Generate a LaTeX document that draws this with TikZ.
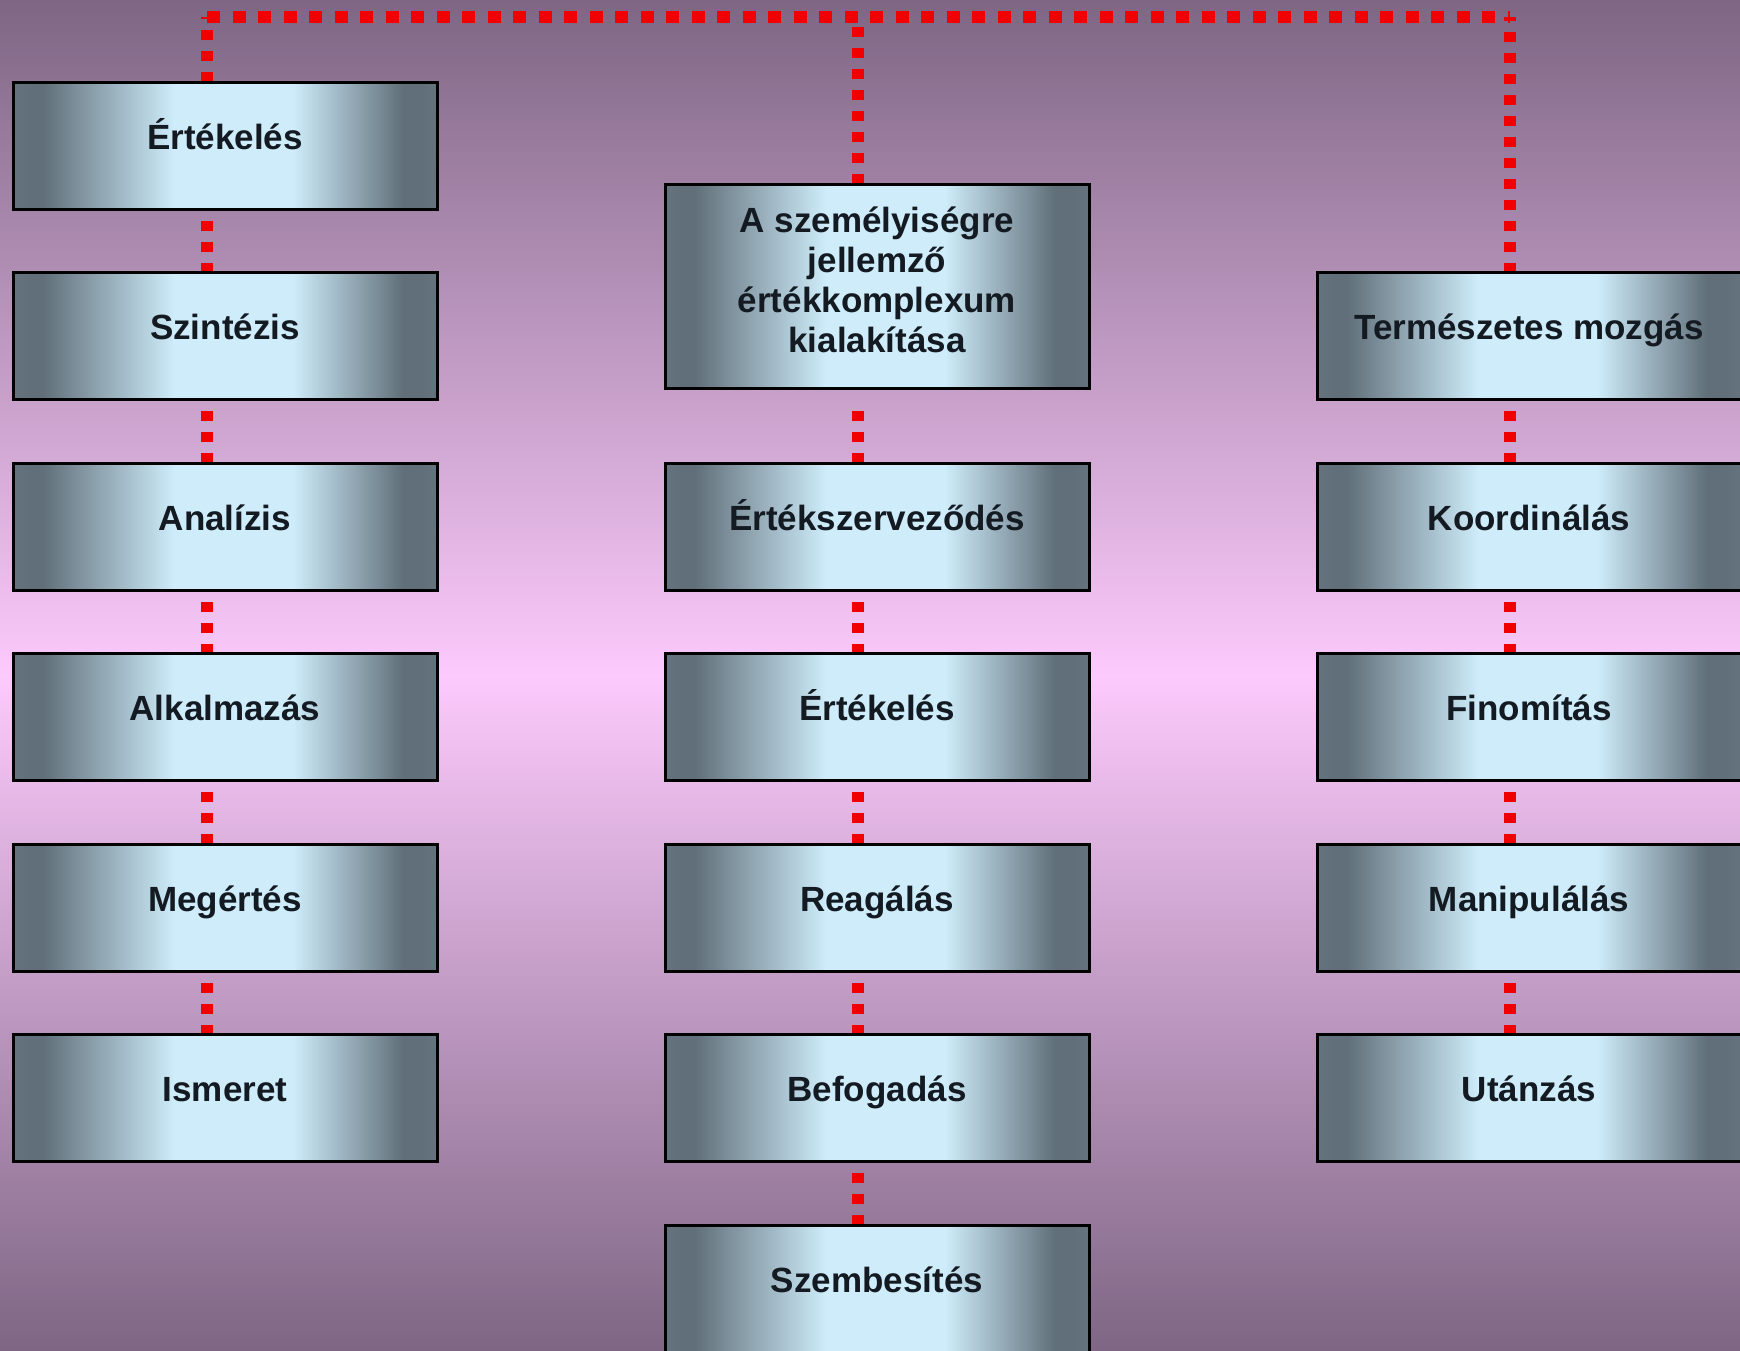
\documentclass[tikz,border=0pt]{standalone}
\usepackage{fontspec}
\setmainfont{Liberation Sans}
\definecolor{bgtop}{RGB}{126,102,132}
\definecolor{bgmid}{RGB}{252,202,252}
\definecolor{bdark}{RGB}{96,111,121}
\definecolor{bedge}{RGB}{100,115,125}
\definecolor{blight}{RGB}{206,236,250}
\definecolor{dotred}{RGB}{240,0,0}
\definecolor{txt}{RGB}{20,26,34}
\pgfdeclarehorizontalshading{boxsh}{100bp}{color(0bp)=(bedge); color(25bp)=(bedge); color(27bp)=(bdark); color(28.5bp)=(bdark); color(44bp)=(blight); color(58bp)=(blight); color(71bp)=(bdark); color(73bp)=(bdark); color(75bp)=(bedge); color(100bp)=(bedge)}
\pgfdeclarelayer{bg}
\pgfdeclarelayer{lines}
\pgfsetlayers{bg,lines,main}
\begin{document}
\begin{tikzpicture}[x=0.5pt,y=-0.5pt,
  boxbase/.style={draw=black, line width=1.5pt, shading=boxsh, minimum width=212pt,
    minimum height=63.5pt, inner sep=0pt, outer sep=0pt, text=txt,
    font=\bfseries\fontsize{17.5}{20}\selectfont},
  onebox/.style={boxbase, text height=12.5pt, text depth=9pt},
  dotv/.style={draw=dotred, line width=6pt, dash pattern=on 5pt off 5.5pt},
  dotthree/.style={draw=dotred, line width=6pt, dash pattern=on 5pt off 5.5pt on 5pt off 5.5pt on 5pt off 30pt},
  doth/.style={draw=dotred, line width=6pt, dash pattern=on 6.5pt off 6.25pt}]
\useasboundingbox (0,0) rectangle (1740,1350);
\begin{pgfonlayer}{bg}
\fill[top color=bgtop, bottom color=bgtop, middle color=bgmid] (0,0) rectangle (1740,1350);
\end{pgfonlayer}

% left column
\node[onebox] (l1) at (225,145.5) {Értékelés};
\node[onebox] (l2) at (225,336) {Szintézis};
\node[onebox] (l3) at (225,526.5) {Analízis};
\node[onebox] (l4) at (225,717) {Alkalmazás};
\node[onebox] (l5) at (225,907.5) {Megértés};
\node[onebox] (l6) at (225,1098) {Ismeret};

% middle column
\node[boxbase, minimum height=102pt, align=center, text depth=6.5pt] (m0) at (877,286)
  {A személyiségre\\jellemző\\értékkomplexum\\kialakítása};
\node[onebox] (m1) at (877,526.5) {Értékszerveződés};
\node[onebox] (m2) at (877,717) {Értékelés};
\node[onebox] (m3) at (877,907.5) {Reagálás};
\node[onebox] (m4) at (877,1098) {Befogadás};
\node[onebox] (m5) at (877,1288.5) {Szembesítés};

% right column
\node[onebox] (r1) at (1529,336) {Természetes mozgás};
\node[onebox] (r2) at (1529,526.5) {Koordinálás};
\node[onebox] (r3) at (1529,717) {Finomítás};
\node[onebox] (r4) at (1529,907.5) {Manipulálás};
\node[onebox] (r5) at (1529,1098) {Utánzás};

\coordinate (tl) at (207,17);
\coordinate (tm) at (858,17);
\coordinate (tr) at (1510,17);

\begin{pgfonlayer}{lines}
\draw[doth] (tl) -- (tr);
\draw[dotv] (l1.north -| tl) -- (tl);
\draw[dotv] (m0.north -| tm) -- (tm);
\draw[dotv] (r1.north -| tr) -- (tr);
\foreach \a/\b in {l1/l2,l2/l3,l3/l4,l4/l5,l5/l6}
  \draw[dotv] (\b.north -| tl) -- (\a.south -| tl);
\draw[dotthree] (m1.north -| tm) -- (m0.south -| tm);
\foreach \a/\b in {m1/m2,m2/m3,m3/m4,m4/m5}
  \draw[dotv] (\b.north -| tm) -- (\a.south -| tm);
\foreach \a/\b in {r1/r2,r2/r3,r3/r4,r4/r5}
  \draw[dotv] (\b.north -| tr) -- (\a.south -| tr);
\end{pgfonlayer}
\end{tikzpicture}
\end{document}
